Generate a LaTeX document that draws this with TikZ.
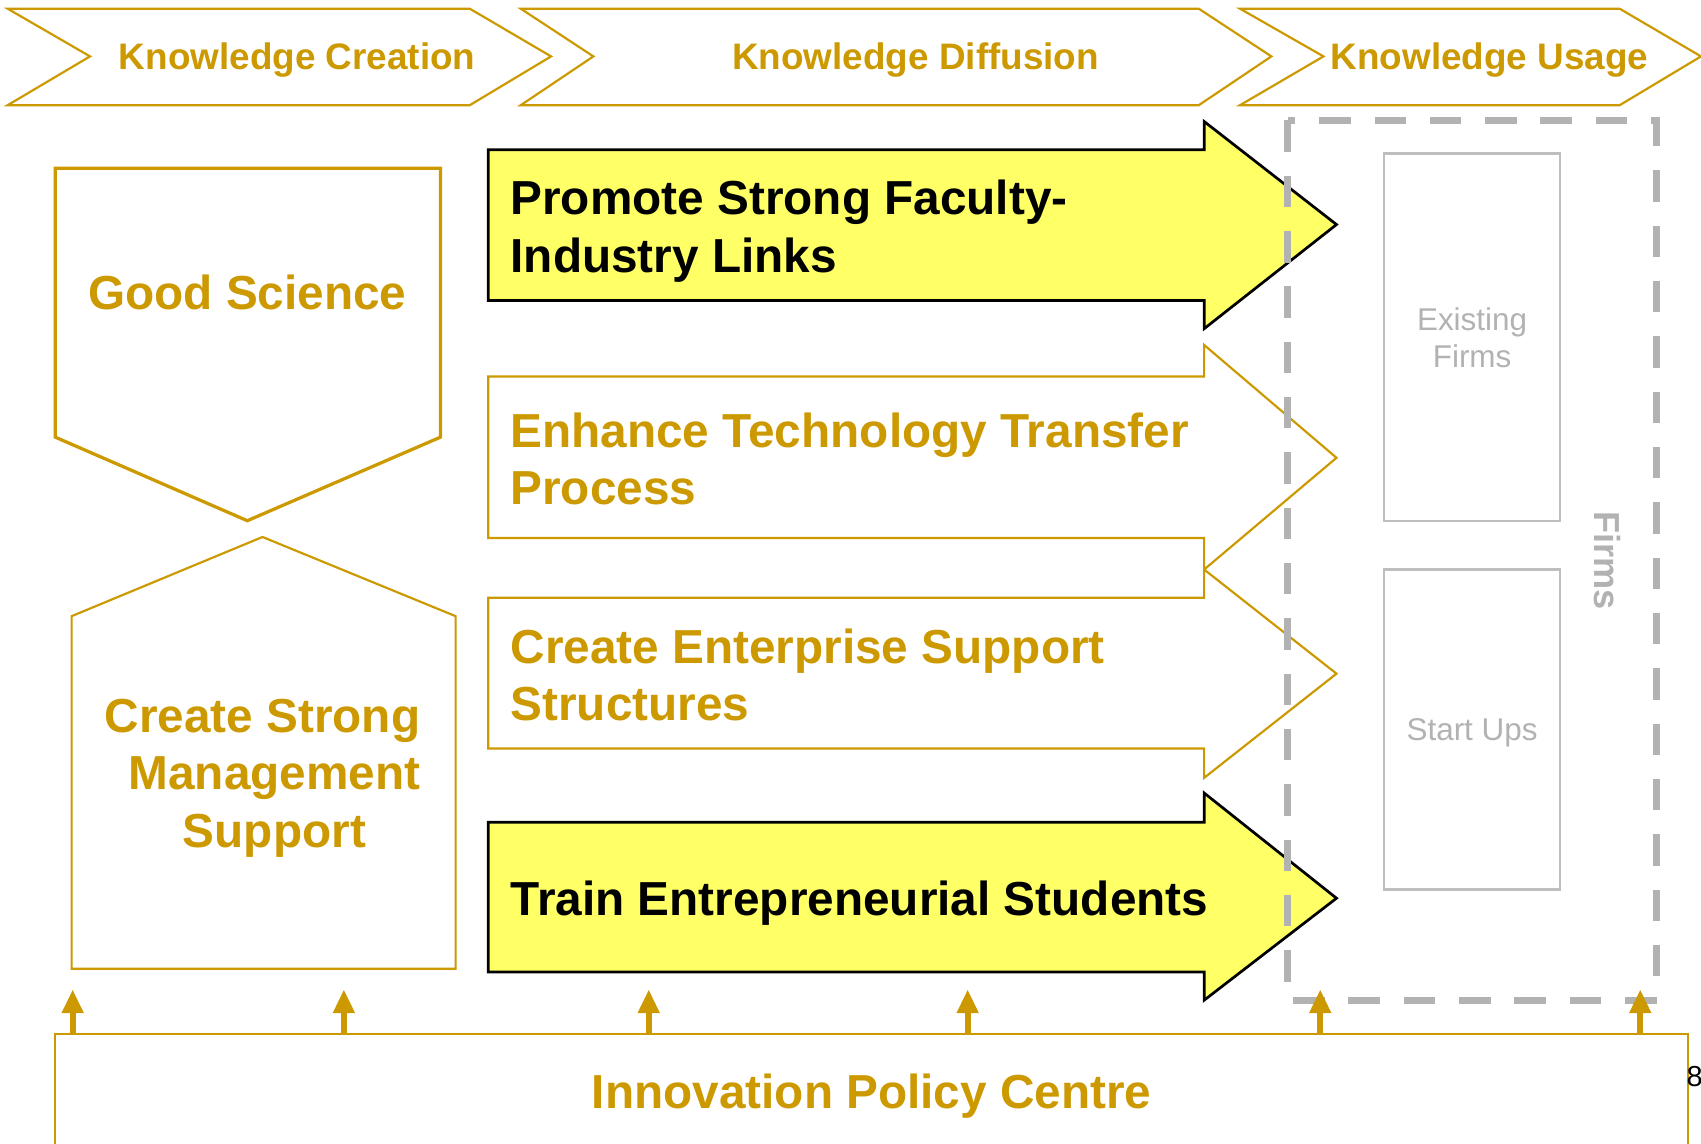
\documentclass[tikz,border=0pt]{standalone}
\usepackage{fontspec}
\setmainfont{Liberation Sans}
\usetikzlibrary{arrows.meta}
\definecolor{gold}{RGB}{204,153,0}
\definecolor{hilite}{RGB}{255,255,102}
\definecolor{firmgray}{RGB}{178,178,178}

\begin{document}
\begin{tikzpicture}[x=0.3pt, y=-0.3pt,
  phase/.style={draw=gold, line width=0.6pt},
  phasetext/.style={text=gold, font=\fontsize{10.2}{12}\selectfont\bfseries, inner sep=0pt},
  bigtext/.style={font=\fontsize{13.2}{15.9}\selectfont\bfseries, inner sep=0pt},
  goldshape/.style={draw=gold, line width=0.6pt, fill=white},
  hot/.style={draw=black, line width=0.75pt, fill=hilite},
  firmbox/.style={draw=firmgray!85, line width=0.6pt, text=firmgray, inner sep=0pt,
    font=\fontsize{8.7}{10.2}\selectfont, align=center, minimum width=48.6pt},
  up/.style={draw=gold, line width=1.75pt, -{Triangle[width=5.7pt,length=6.6pt]}}
  ]
\useasboundingbox (0,0) rectangle (1568,1054);

% phases along the top
\draw[phase] (7,8) -- (433,8) -- (508,52) -- (433,97) -- (7,97) -- (83,52) -- cycle;
\draw[phase] (480,8) -- (1105,8) -- (1172,52) -- (1105,97) -- (480,97) -- (547,52) -- cycle;
\draw[phase] (1143,8) -- (1493,8) -- (1568,52) -- (1493,97) -- (1143,97) -- (1220,52) -- cycle;
\node[phasetext, anchor=base] (creation) at (274,64) {Knowledge Creation};
\node[phasetext, anchor=base] (diffusion) at (844,64) {Knowledge Diffusion};
\node[phasetext, anchor=base] (usage) at (1373,64) {Knowledge Usage};

% left column
\draw[draw=gold, line width=0.9pt] (51,155) -- (406,155) -- (406,403) -- (228,480) -- (51,403) -- cycle;
\draw[goldshape] (242,495) -- (420,568) -- (420,893) -- (66,893) -- (66,568) -- cycle;
\node[bigtext, text=gold, anchor=base] (science) at (228,285) {Good Science};
\node[bigtext, text=gold, align=center] (mgmt) at (253,717) {Create Strong\hspace*{6.6pt}\\Management\\Support};

% block arrows
\draw[hot] (450,138) -- (1110,138) -- (1110,112) -- (1232,207) -- (1110,303) -- (1110,277) -- (450,277) -- cycle;
\draw[goldshape] (450,347) -- (1110,347) -- (1110,318) -- (1232,422) -- (1110,525) -- (1110,496) -- (450,496) -- cycle;
\draw[goldshape] (450,551) -- (1110,551) -- (1110,525) -- (1232,621) -- (1110,717) -- (1110,690) -- (450,690) -- cycle;
\draw[hot] (450,758) -- (1110,758) -- (1110,731) -- (1232,828) -- (1110,922) -- (1110,896) -- (450,896) -- cycle;
\node[bigtext, anchor=west, align=left] (links) at (470,213) {Promote Strong Faculty-\\Industry Links};
\node[bigtext, text=gold, anchor=west, align=left] (transfer) at (470,423) {Enhance Technology Transfer\\Process};
\node[bigtext, text=gold, anchor=west, align=left] (support) at (470,622) {Create Enterprise Support\\Structures};
\node[bigtext, anchor=base west] (students) at (470,844) {Train Entrepreneurial Students};

% firms
\draw[firmgray, line width=2pt, dash pattern=on 8.7pt off 6.6pt] (1187,111) rectangle (1527,922);
\node[firmbox, minimum height=101.7pt] (existing) at (1357,311) {Existing\\Firms};
\node[firmbox, minimum height=88.5pt, text depth=0pt] (startups) at (1357,672.5) {Start Ups};
\node[text=firmgray, font=\fontsize{10}{12}\selectfont\bfseries, rotate=-90, inner sep=0pt] (firms) at (1482,517) {Firms};

% policy centre
\node[draw=gold, line width=0.6pt, text=gold, font=\fontsize{13.2}{15.9}\selectfont\bfseries,
  minimum width=451.5pt, minimum height=34.2pt, inner sep=0pt] (ipc) at (803.5,1010) {Innovation Policy Centre};
\foreach \x in {67,317,598,892,1217,1512}
  \draw[up] (\x,0 |- ipc.north) -- ++(0,-40);
\node[font=\fontsize{8}{10}\selectfont, anchor=base west, inner sep=0pt] (page) at (1554,1002) {8};
\end{tikzpicture}
\end{document}
